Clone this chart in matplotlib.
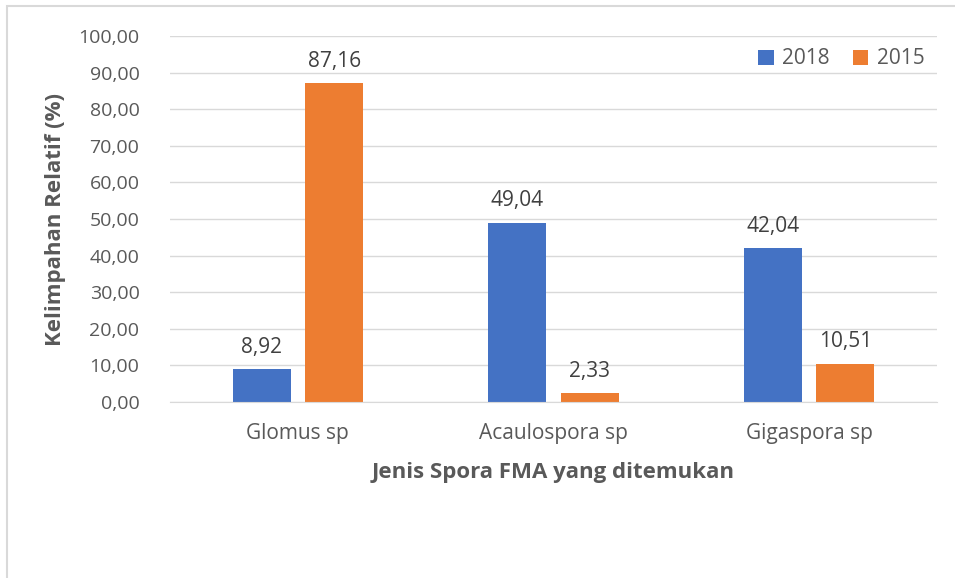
import matplotlib
matplotlib.use("Agg")
import matplotlib.pyplot as plt
import numpy as np
from matplotlib.patches import Rectangle

categories = ["Glomus sp", "Acaulospora sp", "Gigaspora sp"]
series_names = ["2018", "2015"]
values_2018 = [8.92, 49.04, 42.04]
values_2015 = [87.16, 2.33, 10.51]
yticks = [0, 10, 20, 30, 40, 50, 60, 70, 80, 90, 100]

plt.rcParams['font.family'] = ['Open Sans', 'DejaVu Sans']
txt = '#595959'
blue = '#4472C4'
orange = '#ED7D31'

fig = plt.figure(figsize=(9.55, 5.78), dpi=100)
ax = fig.add_axes([170/955, 1-402/578, (937-170)/955, (402-36)/578])

x = np.arange(len(categories))
w = 0.227
off = 0.142
b1 = ax.bar(x - off, values_2018, w, color=blue, label=series_names[0])
b2 = ax.bar(x + off, values_2015, w, color=orange, label=series_names[1])

def fmt(v):
    return f"{v:.2f}".replace('.', ',')

for bars, vals in ((b1, values_2018), (b2, values_2015)):
    for r, v in zip(bars, vals):
        ax.annotate(fmt(v), (r.get_x() + r.get_width()/2, v), xytext=(0, 8),
                    textcoords='offset points', ha='center', va='bottom',
                    fontsize=15, color='#404040')

ax.set_xlim(-0.5, 2.5)
ax.set_ylim(0, 100)
ax.set_yticks(yticks)
ax.set_yticklabels([fmt(t) for t in yticks], fontsize=14, color=txt)
ax.set_xticks(x)
ax.set_xticklabels(categories, fontsize=15, color=txt)
ax.tick_params(axis='both', length=0)
ax.tick_params(axis='y', pad=22)
ax.tick_params(axis='x', pad=15)
ax.grid(axis='y', color='#d9d9d9', linewidth=1)
ax.set_axisbelow(True)
for s in ['top', 'right', 'left']:
    ax.spines[s].set_visible(False)
ax.spines['bottom'].set_color('#d9d9d9')

ax.set_xlabel("Jenis Spora FMA yang ditemukan", fontsize=16, fontweight='bold', color=txt, labelpad=13)
ax.set_ylabel("Kelimpahan Relatif (%)", fontsize=16, fontweight='bold', color=txt, labelpad=9)

leg = ax.legend(loc='upper right', bbox_to_anchor=(1.0, 1.0), ncol=2, frameon=False,
                fontsize=15, handlelength=0.75, handleheight=0.75, handletextpad=0.4,
                columnspacing=1.1, borderaxespad=0.2)
for t in leg.get_texts():
    t.set_color(txt)

fig.patches.append(Rectangle((7/955, -0.1), 1.2, 1 - 6/578 + 0.1, transform=fig.transFigure,
                             fill=False, edgecolor='#d9d9d9', linewidth=1.5))

fig.savefig("out.png", dpi=100)
